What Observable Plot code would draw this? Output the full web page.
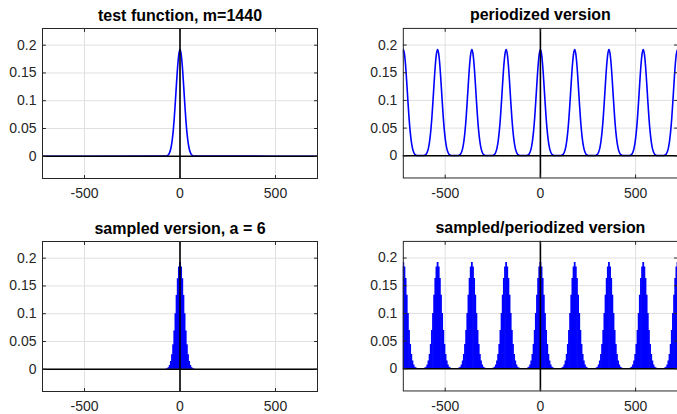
<!DOCTYPE html>
<html>
<head>
<meta charset="utf-8">
<script src="https://cdn.jsdelivr.net/npm/d3@7"></script>
<script src="https://cdn.jsdelivr.net/npm/@observablehq/plot@0.6"></script>
<style>
  html, body { margin: 0; padding: 0; background: #fff; }
  #wrap { position: relative; width: 677px; height: 414px; overflow: hidden; background: #fff; }
  .panel { position: absolute; }
  .panel svg { overflow: visible; }
</style>
</head>
<body>
<div id="wrap"></div>
<script>
// ---- data ----
const titles = ["test function, m=1440", "periodized version", "sampled version, a = 6", "sampled/periodized version"];
const xTicks = [-500, 0, 500];
const xTickLabels = ["-500", "0", "500"];
const yTicks = [0, 0.05, 0.1, 0.15, 0.2];
const yTickLabels = ["0", "0.05", "0.1", "0.15", "0.2"];
const xDomain = [-720, 720];
const yDomain = [-0.04, 0.23];
// one side of the bump, sampled every a = 6 units from its centre
const profileOffsets = [0, 6, 12, 18, 24, 30, 36, 42, 48, 54, 60, 66, 72];
const profileValues  = [0.192, 0.184, 0.163, 0.133, 0.100, 0.069, 0.044, 0.026, 0.014, 0.007, 0.003, 0.0014, 0.0005];
const singleCenters = [0];
const periodCenters = [-720, -540, -360, -180, 0, 180, 360, 540, 720];

// ---- build tables from the arrays ----
function bumpPoints(centers) {
  const pts = [];
  for (const c of centers) {
    for (let i = profileOffsets.length - 1; i > 0; i--) pts.push({x: c - profileOffsets[i], y: profileValues[i]});
    for (let i = 0; i < profileOffsets.length; i++) pts.push({x: c + profileOffsets[i], y: profileValues[i]});
  }
  return pts;
}
function withFlatEnds(pts) {
  return [{x: xDomain[0] - 100, y: 0}, ...pts, {x: xDomain[1] + 100, y: 0}];
}

const BLUE = "#0000ff";
const INK = "#262626";
const tickShape = { draw(context, l) { context.moveTo(0, 0); context.lineTo(0, -l); } };

function panel({left, top, width, height, mt, mb, ml, mr, title, marks}) {
  const chart = Plot.plot({
    width, height,
    marginTop: mt, marginBottom: mb, marginLeft: ml, marginRight: mr,
    style: {fontFamily: "'Liberation Sans', Arial, Helvetica, sans-serif", fontSize: "14px", color: INK, background: "transparent", overflow: "visible"},
    x: {domain: xDomain},
    y: {domain: yDomain},
    marks: [
      Plot.gridX(xTicks, {stroke: "#e0e0e0", strokeOpacity: 1, strokeWidth: 1}),
      Plot.gridY(yTicks, {stroke: "#e0e0e0", strokeOpacity: 1, strokeWidth: 1}),
      ...marks,
      Plot.ruleY([0], {stroke: "#000", strokeWidth: 1.6}),
      Plot.ruleX([0], {stroke: "#000", strokeWidth: 1.6}),
      Plot.vector(xTicks, {x: d => d, frameAnchor: "bottom", rotate: 0, length: 3, anchor: "start", shape: tickShape, stroke: INK, strokeWidth: 1}),
      Plot.vector(xTicks, {x: d => d, frameAnchor: "top", rotate: 180, length: 3, anchor: "start", shape: tickShape, stroke: INK, strokeWidth: 1}),
      Plot.vector(yTicks, {y: d => d, frameAnchor: "left", rotate: 90, length: 3, anchor: "start", shape: tickShape, stroke: INK, strokeWidth: 1}),
      Plot.vector(yTicks, {y: d => d, frameAnchor: "right", rotate: -90, length: 3, anchor: "start", shape: tickShape, stroke: INK, strokeWidth: 1}),
      Plot.frame({stroke: INK, strokeWidth: 1}),
      Plot.axisX({ticks: xTicks, tickFormat: d => xTickLabels[xTicks.indexOf(d)], tickSize: 0, tickPadding: 10, label: null, fill: INK, fontSize: 14}),
      Plot.axisY({ticks: yTicks, tickFormat: d => yTickLabels[yTicks.indexOf(d)], tickSize: 0, tickPadding: 6, label: null, fill: INK, fontSize: 14}),
      Plot.text([title], {frameAnchor: "top", dy: -8, lineAnchor: "bottom", fontWeight: "bold", fontSize: 16, fill: "#000", text: d => d})
    ]
  });
  const div = document.createElement("div");
  div.className = "panel";
  div.style.left = left + "px";
  div.style.top = top + "px";
  div.appendChild(chart);
  document.getElementById("wrap").appendChild(div);
}

const lineOpts = {x: "x", y: "y", stroke: BLUE, strokeWidth: 1.6, curve: "monotone-x", clip: true};
const stemOpts = {x: "x", y1: 0, y2: "y", stroke: BLUE, strokeWidth: 1.8, clip: true};

// top-left: test function
panel({left: 0, top: 0, width: 338, height: 207, mt: 28, mb: 29, ml: 42, mr: 21, title: titles[0],
  marks: [Plot.line(withFlatEnds(bumpPoints(singleCenters)), lineOpts)]});
// top-right: periodized
panel({left: 338, top: 0, width: 340, height: 207, mt: 28, mb: 29, ml: 65, mr: 0, title: titles[1],
  marks: [Plot.line(withFlatEnds(bumpPoints(periodCenters)), lineOpts)]});
// bottom-left: sampled
panel({left: 0, top: 207, width: 338, height: 207, mt: 34, mb: 23, ml: 42, mr: 21, title: titles[2],
  marks: [Plot.ruleX(bumpPoints(singleCenters), stemOpts)]});
// bottom-right: sampled/periodized
panel({left: 338, top: 207, width: 340, height: 207, mt: 34, mb: 23, ml: 65, mr: 0, title: titles[3],
  marks: [Plot.ruleX(bumpPoints(periodCenters), stemOpts)]});
</script>
</body>
</html>
